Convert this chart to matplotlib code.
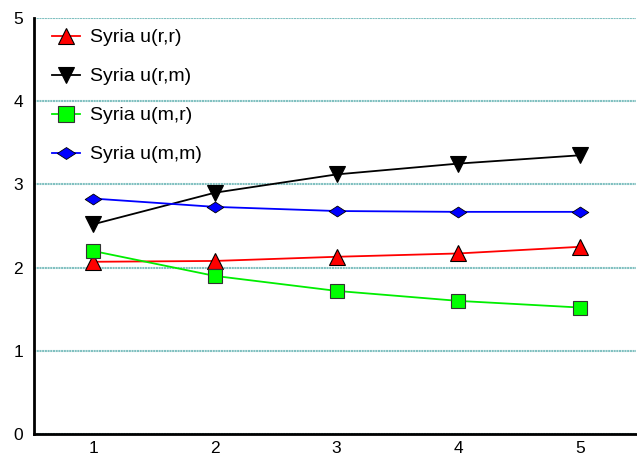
import matplotlib
matplotlib.use("Agg")
import matplotlib.pyplot as plt
from matplotlib.path import Path

plt.rcParams['font.family'] = ['Liberation Sans', 'DejaVu Sans']

periods = [1, 2, 3, 4, 5]
u_rr = [2.07, 2.08, 2.13, 2.17, 2.25]
u_rm = [2.52, 2.90, 3.12, 3.25, 3.35]
u_mr = [2.20, 1.90, 1.72, 1.60, 1.52]
u_mm = [2.83, 2.73, 2.68, 2.67, 2.67]
labels = ['Syria u(r,r)', 'Syria u(r,m)', 'Syria u(m,r)', 'Syria u(m,m)']
y_ticks = [0, 1, 2, 3, 4, 5]

# flat diamond, wider than tall
diamond = Path([(-1, 0), (0, 0.65), (1, 0), (0, -0.65), (-1, 0)],
               [Path.MOVETO, Path.LINETO, Path.LINETO, Path.LINETO, Path.CLOSEPOLY])

fig = plt.figure(figsize=(6.37, 4.58), dpi=100)
ax = fig.add_axes([34 / 637, 24 / 458, 602 / 637, 416 / 458])

ax.plot(periods, u_rr, color='#ff0000', lw=1.3, marker='^', ms=11,
        mfc='#ff0000', mec='black', mew=0.8, label=labels[0])
ax.plot(periods, u_rm, color='black', lw=1.3, marker='v', ms=11,
        mfc='black', mec='black', mew=0.8, label=labels[1])
ax.plot(periods, u_mr, color='#00ee00', lw=1.3, marker='s', ms=10,
        mfc='#00ff00', mec='#333333', mew=0.8, label=labels[2])
ax.plot(periods, u_mm, color='#0000ff', lw=1.3, marker=diamond, ms=12,
        mfc='#0000ff', mec='black', mew=0.6, label=labels[3])

ax.set_xlim(0.515, 5.46)
ax.set_ylim(0, 5)
ax.set_xticks(periods)
ax.set_yticks(y_ticks)
ax.tick_params(length=0, labelsize=12.5, pad=5)
ax.tick_params(axis='y', pad=8)

ax.grid(axis='y', color='#80c0c0', lw=1.5, ls=(0, (1, 0.3)))
ax.set_axisbelow(True)
for s in ['top', 'right']:
    ax.spines[s].set_visible(False)
for s in ['left', 'bottom']:
    ax.spines[s].set_linewidth(2)

ax.legend(loc='upper left', bbox_to_anchor=(18 / 602, 0.974), frameon=False,
          borderpad=0, borderaxespad=0, fontsize=14, labelspacing=1.1,
          handlelength=1.45, handletextpad=0.5, markerscale=1.1)

fig.savefig('out.png', dpi=100)
